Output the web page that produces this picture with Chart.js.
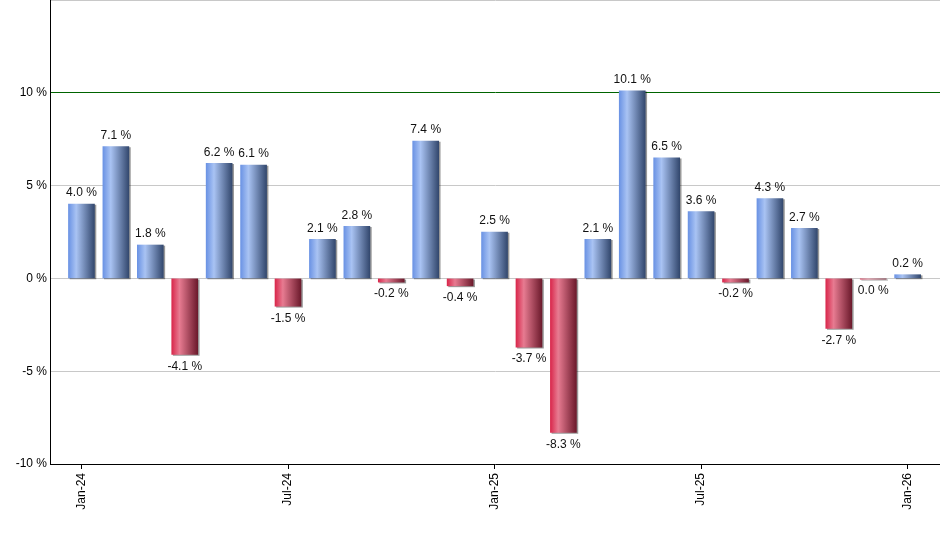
<!DOCTYPE html>
<html>
<head>
<meta charset="utf-8">
<script src="https://cdn.jsdelivr.net/npm/chart.js@4/dist/chart.umd.min.js"></script>
<style>
  html, body { margin: 0; padding: 0; background: #fff; }
  #wrap { width: 940px; height: 550px; }
</style>
</head>
<body>
<div id="wrap"><canvas id="c" width="940" height="550"></canvas></div>
<script>
// monthly returns, Jan-24 .. Jan-26
var months = ['Jan-24','Feb-24','Mar-24','Apr-24','May-24','Jun-24','Jul-24','Aug-24','Sep-24','Oct-24','Nov-24','Dec-24',
              'Jan-25','Feb-25','Mar-25','Apr-25','May-25','Jun-25','Jul-25','Aug-25','Sep-25','Oct-25','Nov-25','Dec-25','Jan-26'];
var returns = [4.0, 7.1, 1.8, -4.1, 6.2, 6.1, -1.5, 2.1, 2.8, -0.2, 7.4, -0.4,
               2.5, -3.7, -8.3, 2.1, 10.1, 6.5, 3.6, -0.2, 4.3, 2.7, -2.7, -0.04, 0.2];
var xTickIdx = [0, 6, 12, 18, 24];
var yTicks = [-10, -5, 0, 5, 10, 15];

var FONT = '"Liberation Sans", Arial, sans-serif';

function fmt(v) {
    if (Math.abs(v) < 0.05) return '0.0 %';
    return v.toFixed(1) + ' %';
}

function barFill(ctx) {
    var chart = ctx.chart;
    var area = chart.chartArea;
    if (!area || ctx.type !== 'data') return '#7fa0e0';
    var v = returns[ctx.dataIndex];
    var cx = chart.scales.x.getPixelForValue(ctx.dataIndex);
    var g = chart.ctx.createLinearGradient(cx - 13, 0, cx + 13, 0);
    if (v >= 0) {
        g.addColorStop(0, '#6b93e4');
        g.addColorStop(0.3, '#a9c3f3');
        g.addColorStop(1, '#33486e');
    } else {
        g.addColorStop(0, '#d9284c');
        g.addColorStop(0.3, '#e77b91');
        g.addColorStop(1, '#6c1a2c');
    }
    return g;
}

// thin grey drop shadow on the right / bottom edge of each bar
var shadowPlugin = {
    id: 'barShadow',
    beforeDatasetsDraw: function(chart) {
        var c = chart.ctx;
        c.save();
        c.shadowColor = 'rgba(0,0,0,0.4)';
        c.shadowOffsetX = 1.5;
        c.shadowOffsetY = 1;
        c.shadowBlur = 0;
    },
    afterDatasetsDraw: function(chart) {
        chart.ctx.restore();
    }
};

var labelPlugin = {
    id: 'valueLabels',
    afterDatasetsDraw: function(chart) {
        var c = chart.ctx;
        var meta = chart.getDatasetMeta(0);
        c.save();
        c.font = '12px ' + FONT;
        c.fillStyle = '#111';
        c.textAlign = 'center';
        c.textBaseline = 'middle';
        meta.data.forEach(function(bar, i) {
            var v = returns[i];
            var y = v >= 0 ? Math.min(bar.y, bar.base) - 11 : Math.max(bar.y, bar.base) + 12;
            c.fillText(fmt(v), bar.x, y);
        });
        c.restore();
    }
};

new Chart(document.getElementById('c'), {
    type: 'bar',
    data: {
        datasets: [{
            data: returns.map(function(v, i) { return { x: i, y: v }; }),
            backgroundColor: barFill,
            borderWidth: 0,
            barThickness: 26
        }]
    },
    options: {
        responsive: false,
        animation: false,
        layout: { padding: 0 },
        plugins: { legend: { display: false }, tooltip: { enabled: false } },
        scales: {
            x: {
                type: 'linear',
                min: -0.914,
                max: 24.94,
                offset: false,
                afterBuildTicks: function(s) {
                    s.ticks = xTickIdx.map(function(i) { return { value: i }; });
                },
                afterFit: function(s) {
                    s.height = 86;
                    s.paddingLeft = 0;
                    s.paddingRight = 0;
                },
                ticks: {
                    autoSkip: false,
                    minRotation: 90,
                    maxRotation: 90,
                    padding: 4,
                    color: '#000',
                    font: { family: FONT, size: 12 },
                    callback: function(v) { return months[v]; }
                },
                grid: {
                    offset: false,
                    drawOnChartArea: false,
                    drawTicks: true,
                    tickLength: 5,
                    color: '#000',
                    lineWidth: 1
                },
                border: { display: true, color: '#000', width: 1 }
            },
            y: {
                min: -10,
                max: 15,
                afterBuildTicks: function(s) {
                    s.ticks = yTicks.map(function(v) { return { value: v }; });
                },
                afterFit: function(s) {
                    s.width = 50;
                    s.paddingTop = 0;
                    s.paddingBottom = 0;
                },
                ticks: {
                    padding: 3,
                    color: '#000',
                    font: { family: FONT, size: 12 },
                    callback: function(v) { return v === 15 ? '' : v + ' %'; }
                },
                grid: {
                    drawTicks: false,
                    color: function(ctx) { return ctx.tick && ctx.tick.value === 10 ? '#006400' : '#c8c8c8'; },
                    lineWidth: 1
                },
                border: { display: true, color: '#000', width: 1 }
            }
        }
    },
    plugins: [shadowPlugin, labelPlugin]
});
</script>
</body>
</html>
